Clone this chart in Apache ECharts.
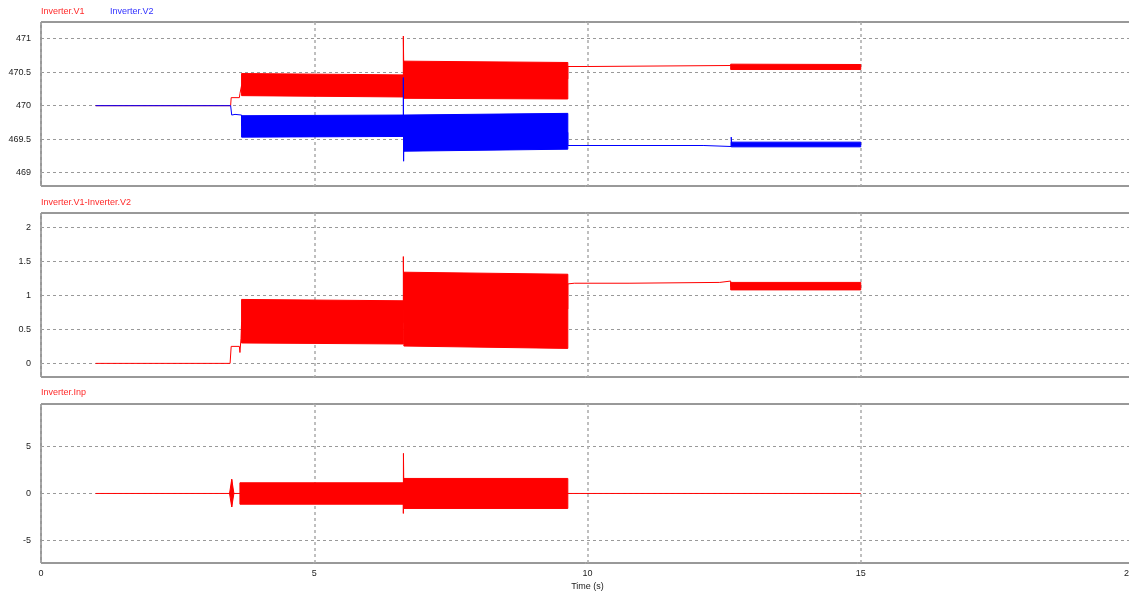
<!DOCTYPE html>
<html>
<head>
<meta charset="utf-8">
<script src="https://cdn.jsdelivr.net/npm/echarts@6/dist/echarts.min.js"></script>
<style>
html, body { margin: 0; padding: 0; background: #fff; }
#main { width: 1129px; height: 591px; }
</style>
</head>
<body>
<div id="main"></div>
<script>
var timeTicks = [0, 5, 10, 15, 20];
var voltTicks = [469, 469.5, 470, 470.5, 471];
var diffTicks = [0, 0.5, 1, 1.5, 2];
var inpTicks = [-5, 0, 5];

// thin traces, [time, value]
var v1Trace = [[1, 470], [3.47, 470], [3.48, 470.12], [3.63, 470.12], [3.64, 470.18], [3.67, 470.18], [3.67, 470.3],
    [6.63, 470.3], [6.63, 471.04], [6.64, 470.4], [9.64, 470.4], [9.64, 470.585], [10.0, 470.585], [10.02, 470.6],
    [12.62, 470.6], [12.62, 470.58], [15, 470.58]];
var v2Trace = [[1, 470], [3.47, 470], [3.49, 469.86], [3.55, 469.87], [3.67, 469.86], [3.67, 469.7], [6.63, 469.7],
    [6.63, 470.42], [6.635, 469.17], [6.64, 469.6], [9.64, 469.6], [9.64, 469.405], [12.13, 469.405], [12.14, 469.39],
    [12.63, 469.39], [12.63, 469.53], [12.64, 469.42], [15, 469.42]];
var diffTrace = [[1, 0], [3.46, 0], [3.48, 0.25], [3.63, 0.25], [3.64, 0.16], [3.66, 0.37], [3.67, 0.6], [6.63, 0.6],
    [6.63, 1.57], [6.64, 0.8], [9.64, 0.8], [9.64, 1.168], [9.76, 1.178], [10.76, 1.178], [10.77, 1.19], [12.42, 1.19],
    [12.43, 1.21], [12.62, 1.21], [12.62, 1.13], [15, 1.13]];
var inpTrace = [[1, 0], [6.63, 0], [6.63, -2.12], [6.632, 4.25], [6.64, 0], [15, 0]];

// oscillation envelopes, [tStart, tEnd, loStart, hiStart, loEnd, hiEnd]
var v1Bands = [[3.67, 6.63, 470.15, 470.48, 470.13, 470.46], [6.64, 9.64, 470.11, 470.665, 470.10, 470.645],
    [12.62, 15, 470.54, 470.62, 470.54, 470.615]];
var v2Bands = [[3.67, 6.63, 469.53, 469.85, 469.54, 469.86], [6.64, 9.64, 469.32, 469.86, 469.35, 469.885],
    [12.63, 15, 469.385, 469.455, 469.385, 469.455]];
var diffBands = [[3.67, 6.63, 0.30, 0.94, 0.285, 0.92], [6.64, 9.64, 0.255, 1.34, 0.22, 1.31],
    [12.62, 15, 1.08, 1.19, 1.08, 1.19]];
var inpBands = [[3.45, 3.49, 0, 0, -1.42, 1.49], [3.49, 3.53, -1.42, 1.49, 0, 0], [3.64, 6.63, -1.14, 1.13, -1.14, 1.13],
    [6.64, 9.64, -1.59, 1.59, -1.59, 1.59]];

var RED = '#ff0000';
var BLUE = '#0000ff';

function timeAxis(idx, showLabel) {
    return {
        gridIndex: idx, type: 'value', min: timeTicks[0], max: timeTicks[timeTicks.length - 1],
        interval: timeTicks[1] - timeTicks[0],
        axisLine: {show: false},
        axisTick: {show: false},
        axisLabel: {show: showLabel, fontSize: 9, color: '#222', margin: 6, fontFamily: 'Liberation Sans',
            alignMaxLabel: 'right'},
        splitLine: {show: true, lineStyle: {color: '#aaa', type: [3, 3], width: 1.5}},
        name: showLabel ? 'Time (s)' : '',
        nameLocation: 'middle',
        nameGap: 19,
        nameTextStyle: {fontSize: 9, color: '#222', fontFamily: 'Liberation Sans'}
    };
}

function valueAxis(idx, min, max, splitNumber, ticks) {
    return {
        gridIndex: idx, type: 'value', min: min, max: max, splitNumber: splitNumber,
        axisLine: {show: false},
        axisTick: {show: false},
        axisLabel: {
            fontSize: 9, color: '#222', margin: 10, fontFamily: 'Liberation Sans',
            formatter: function (v) {
                for (var i = 0; i < ticks.length; i++) {
                    if (Math.abs(ticks[i] - v) < 1e-6) return String(ticks[i]);
                }
                return '';
            }
        },
        splitLine: {show: true, showMinLine: false, showMaxLine: false, lineStyle: {color: '#999', type: [3, 3], width: 1}}
    };
}

function traceSeries(data, color, idx) {
    return {
        type: 'line', xAxisIndex: idx, yAxisIndex: idx, data: data,
        showSymbol: false, symbol: 'none', silent: true,
        itemStyle: {color: color},
        lineStyle: {color: color, width: 1}
    };
}

function bandSeries(data, color, idx) {
    return {
        type: 'custom', xAxisIndex: idx, yAxisIndex: idx, data: data, silent: true,
        encode: {x: [0, 1], y: [2, 3, 4, 5]},
        renderItem: function (params, api) {
            var t0 = api.value(0), t1 = api.value(1);
            var pts = [
                api.coord([t0, api.value(3)]),
                api.coord([t1, api.value(5)]),
                api.coord([t1, api.value(4)]),
                api.coord([t0, api.value(2)])
            ];
            return {
                type: 'polygon',
                shape: {points: pts},
                style: {fill: color, stroke: color, lineWidth: 1}
            };
        }
    };
}

function panelGrid(top, height) {
    return {
        left: 41, right: -5, top: top, height: height,
        containLabel: false, outerBoundsMode: 'none',
        show: true, borderColor: '#333', borderWidth: 1
    };
}

var myChart = echarts.init(document.getElementById('main'), null, {renderer: 'canvas'});
myChart.setOption({
    animation: false,
    backgroundColor: '#fff',
    graphic: [
        {type: 'text', left: 41, top: 7, style: {text: 'Inverter.V1', fill: '#ff2a2a', font: '9px Liberation Sans'}},
        {type: 'text', left: 110, top: 7, style: {text: 'Inverter.V2', fill: '#3030ff', font: '9px Liberation Sans'}},
        {type: 'text', left: 41, top: 198, style: {text: 'Inverter.V1-Inverter.V2', fill: '#ff2a2a', font: '9px Liberation Sans'}},
        {type: 'text', left: 41, top: 388, style: {text: 'Inverter.Inp', fill: '#ff2a2a', font: '9px Liberation Sans'}}
    ],
    grid: [panelGrid(22, 164), panelGrid(213, 164), panelGrid(404, 159)],
    xAxis: [timeAxis(0, false), timeAxis(1, false), timeAxis(2, true)],
    yAxis: [
        valueAxis(0, 468.8, 471.25, 5, voltTicks),
        valueAxis(1, -0.2, 2.21, 5, diffTicks),
        valueAxis(2, -7.37, 9.48, 3, inpTicks)
    ],
    series: [
        traceSeries(v1Trace, RED, 0),
        traceSeries(v2Trace, BLUE, 0),
        bandSeries(v1Bands, RED, 0),
        bandSeries(v2Bands, BLUE, 0),
        traceSeries(diffTrace, RED, 1),
        bandSeries(diffBands, RED, 1),
        traceSeries(inpTrace, RED, 2),
        bandSeries(inpBands, RED, 2)
    ]
});
</script>
</body>
</html>
